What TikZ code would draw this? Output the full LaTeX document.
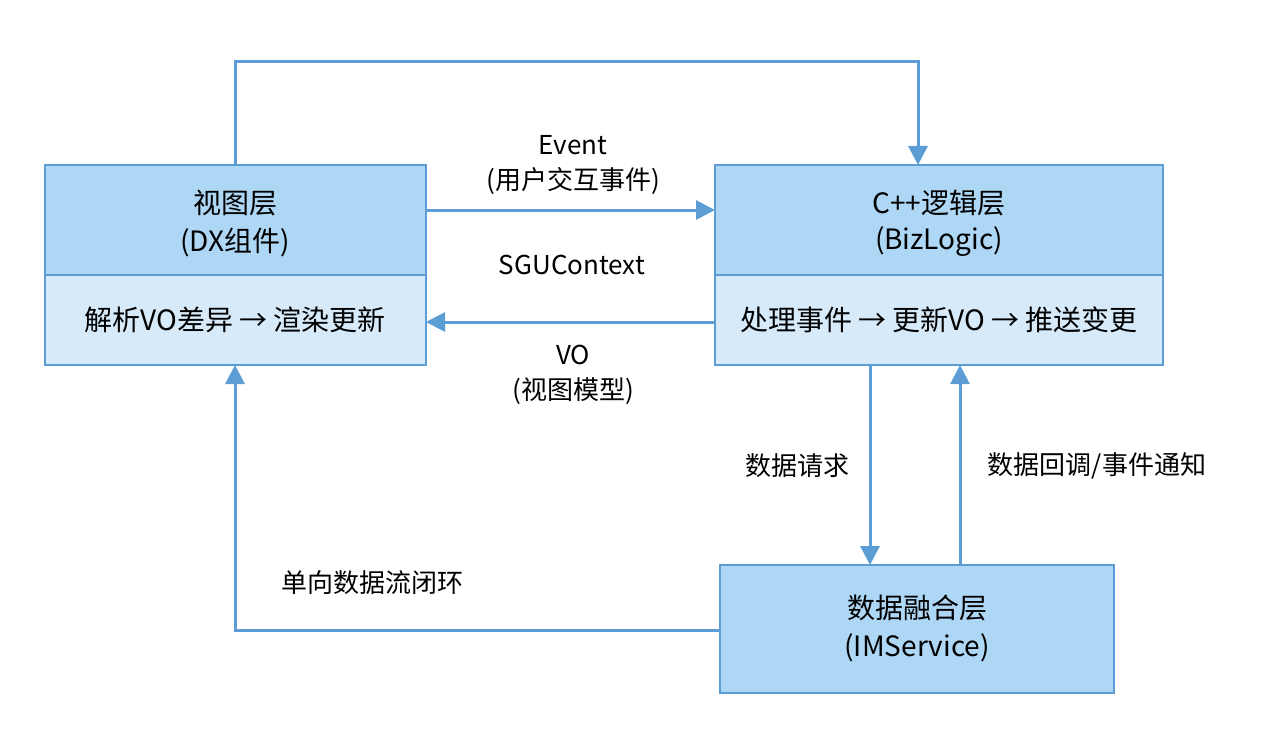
\documentclass[tikz,border=0pt]{standalone}
\usepackage{fontspec}
\setmainfont{Noto Sans CJK SC}
\usetikzlibrary{arrows.meta}
\definecolor{ln}{RGB}{92,157,214}
\definecolor{dark}{RGB}{174,214,245}
\definecolor{light}{RGB}{214,234,250}
\begin{document}
\begin{tikzpicture}[x=1pt,y=-1pt,
  box/.style={draw=ln,line width=2pt},
  arr/.style={draw=ln,line width=3pt,-{Triangle[length=19pt,width=19pt]}},
  t/.style={font=\fontsize{28}{32}\selectfont,inner sep=0},
  l/.style={font=\fontsize{26}{30}\selectfont,inner sep=0}]
\useasboundingbox (0,0) rectangle (1264,733);
% view box
\fill[dark] (45,165) rectangle (426,275);
\fill[light] (45,275) rectangle (426,365);
\draw[box] (45,165) rectangle (426,365);
\draw[box] (45,275) -- (426,275);
\node[t] (v1) at (235,203) {视图层};
\node[t] (v2) at (235,242) {(DX组件)};
\node[t] (v3) at (235,320) {解析VO差异 → 渲染更新};
% logic box
\fill[dark] (715,165) rectangle (1163,275);
\fill[light] (715,275) rectangle (1163,365);
\draw[box] (715,165) rectangle (1163,365);
\draw[box] (715,275) -- (1163,275);
\node[t] (c1) at (939,203) {C++逻辑层};
\node[t] (c2) at (939,242) {(BizLogic)};
\node[t] (c3) at (939,320) {处理事件 → 更新VO → 推送变更};
% fusion box
\draw[box,fill=dark] (720,565) rectangle (1114,693);
\node[t] (f1) at (917,608) {数据融合层};
\node[t] (f2) at (917,648) {(IMService)};
\coordinate (vt) at (235,165); \coordinate (ct) at (918,165);
\coordinate (vb) at (235,365); \coordinate (fl) at (720,630);
\coordinate (ce) at (715,210); \coordinate (ve) at (426,210);
\coordinate (cv) at (715,322); \coordinate (vv) at (426,322);
\coordinate (rq1) at (870,365); \coordinate (rq2) at (870,565);
\coordinate (cb1) at (960,565); \coordinate (cb2) at (960,365);
% arrows
\draw[arr] (vt) |- (576,62) -| (ct);
\draw[arr] (ve) -- (ce);
\draw[arr] (cv) -- (vv);
\draw[arr] (rq1) -- (rq2);
\draw[arr] (cb1) -- (cb2);
\draw[arr] (fl) -| (vb);
% labels
\node[l] at (573,145) {Event};
\node[l] at (573,181) {(用户交互事件)};
\node[l] at (572,265) {SGUContext};
\node[l] at (573,355) {VO};
\node[l] at (573,391) {(视图模型)};
\node[l] at (797,466) {数据请求};
\node[l] at (1097,466) {数据回调/事件通知};
\node[l] at (372,583) {单向数据流闭环};
\end{tikzpicture}
\end{document}
